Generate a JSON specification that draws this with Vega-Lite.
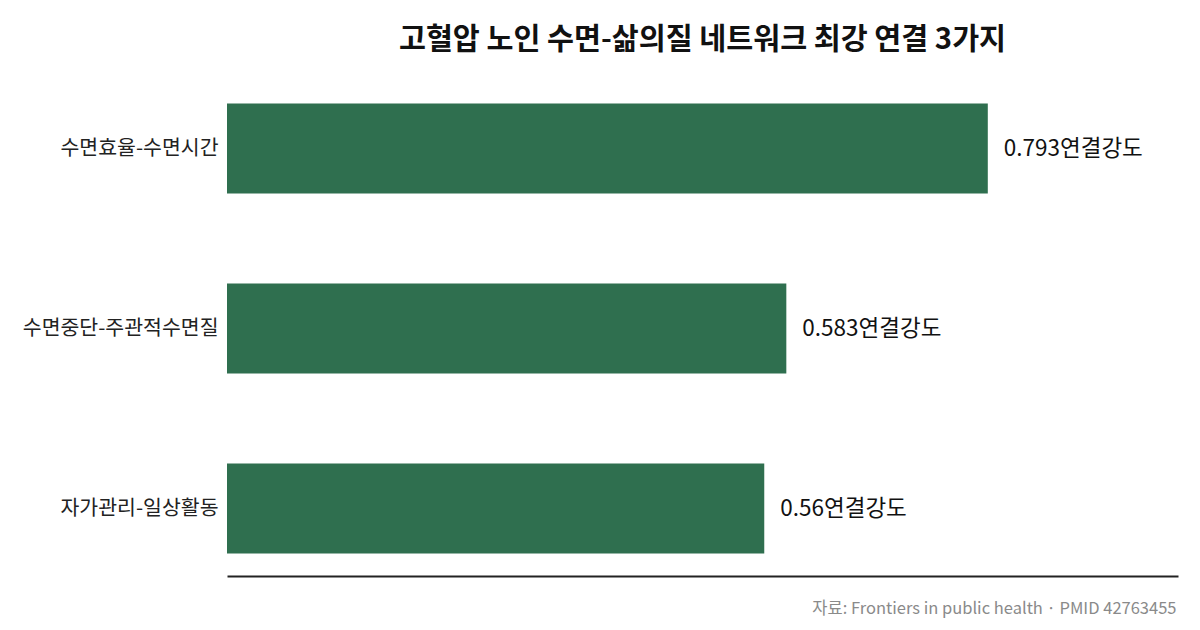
{
  "$schema": "https://vega.github.io/schema/vega-lite/v6.json",
  "autosize": "none",
  "width": 951,
  "height": 495,
  "padding": {"left": 227, "top": 81, "right": 22, "bottom": 54},
  "background": "white",
  "config": {
    "font": "Noto Sans CJK KR",
    "view": {"stroke": null}
  },
  "title": {
    "text": "고혈압 노인 수면-삶의질 네트워크 최강 연결 3가지",
    "fontSize": 29.3,
    "fontWeight": "bold",
    "color": "#111111",
    "anchor": "middle",
    "offset": 26
  },
  "data": {
    "values": [
      {"pair": "수면효율-수면시간", "strength": 0.793, "label": "0.793연결강도"},
      {"pair": "수면중단-주관적수면질", "strength": 0.583, "label": "0.583연결강도"},
      {"pair": "자가관리-일상활동", "strength": 0.56, "label": "0.56연결강도"}
    ]
  },
  "encoding": {
    "y": {
      "field": "pair",
      "type": "nominal",
      "sort": null,
      "scale": {"paddingInner": 0.5, "paddingOuter": 0.125},
      "axis": {
        "title": null,
        "ticks": false,
        "domain": false,
        "labelFontSize": 20.5,
        "labelColor": "#222222",
        "labelPadding": 9,
        "labelLimit": 400
      }
    },
    "x": {
      "field": "strength",
      "type": "quantitative",
      "scale": {"domain": [0, 0.99125], "nice": false},
      "axis": {
        "title": "자료: Frontiers in public health · PMID 42763455",
        "titleAnchor": "end",
        "titleAlign": "right",
        "titleX": 949,
        "titleFontSize": 16.5,
        "titleFontWeight": "normal",
        "titleColor": "#8a8a8a",
        "titlePadding": 24,
        "labels": false,
        "ticks": false,
        "grid": false,
        "domainColor": "#222222",
        "domainWidth": 2
      }
    }
  },
  "layer": [
    {
      "mark": {"type": "bar", "color": "#2f6f4f"}
    },
    {
      "mark": {"type": "text", "align": "left", "dx": 16, "fontSize": 22.5, "color": "#111111"},
      "encoding": {"text": {"field": "label"}}
    }
  ]
}
